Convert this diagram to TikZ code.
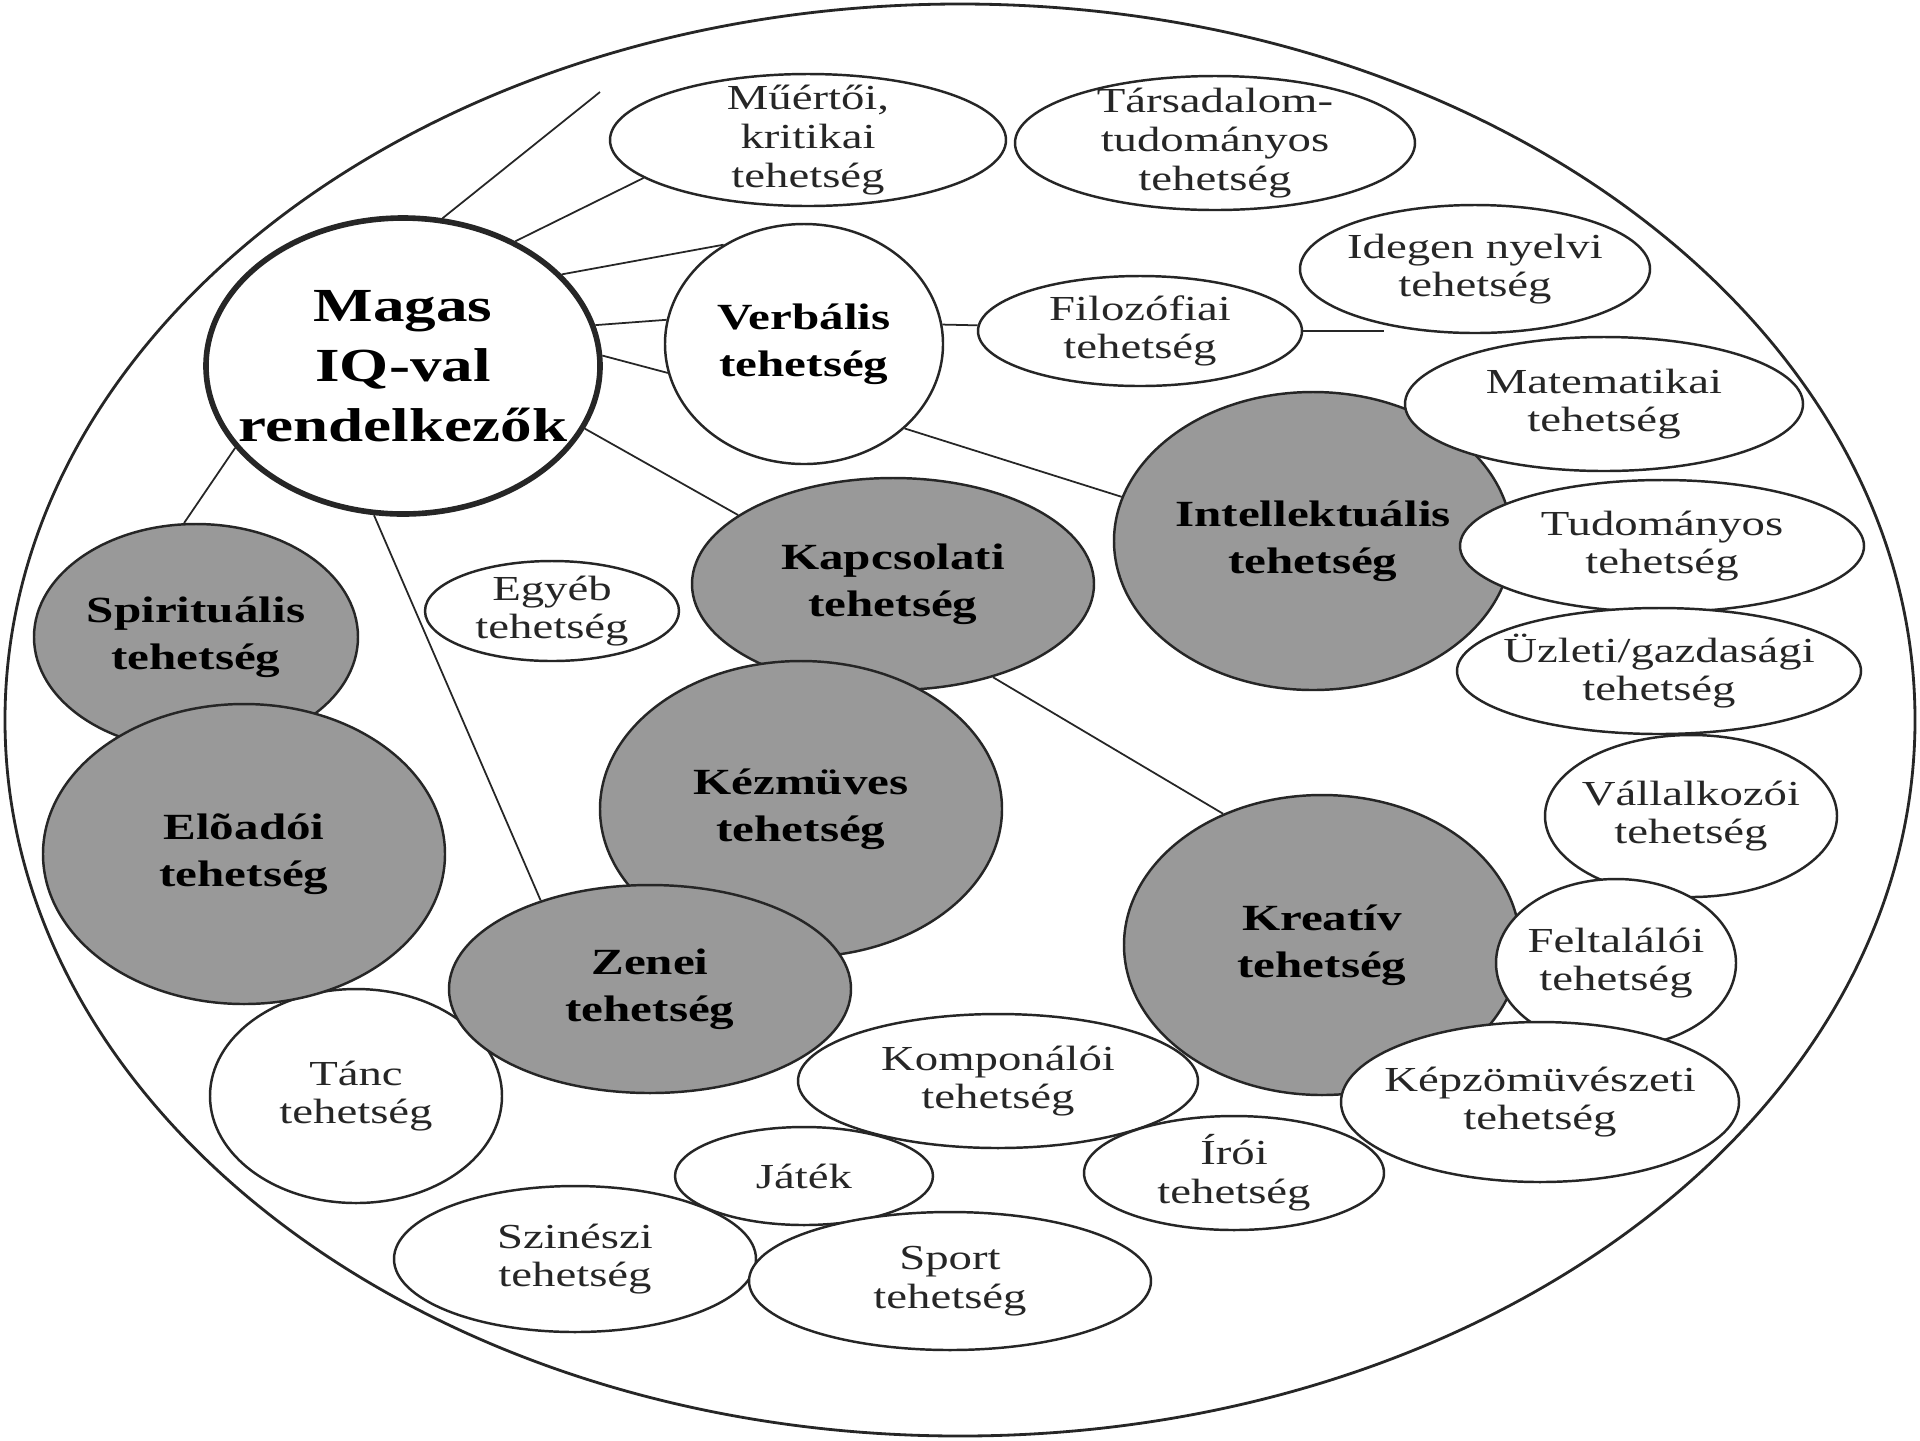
\documentclass[tikz,border=0pt]{standalone}
\usepackage{fontspec}
\setmainfont{Liberation Serif}[FakeStretch=1.33]
\usetikzlibrary{shapes.geometric}

\begin{document}
\begin{tikzpicture}[x=1mm, y=1mm,
  talent/.style={ellipse, draw=black!85, fill=white, line width=0.7pt},
  gift/.style={talent, fill=black!40},
  dims/.style 2 args={minimum width=#1mm, minimum height=#2mm},
  plain/.style={font=\fontsize{10}{11}\selectfont, align=center, text=black!85},
  strong/.style={font=\fontsize{10.5}{13.5}\selectfont\bfseries, align=center},
  link/.style={black!85, line width=0.5pt}]
\tikzstyle{every node}+=[inner sep=0pt]
\useasboundingbox (0,0) rectangle (192,-144);
\node [talent, dims={191}{143.2}, line width=0.8pt] (frame) at (96,-72) {};
\node [talent, dims={29.2}{21.4}, label={[plain]center:{Tánc\\tehetség}}] (tanc) at (35.6,-109.6) {};
\node [gift, dims={32.4}{22.6}, label={[strong]center:{Spirituális\\tehetség}}] (spirit) at (19.6,-63.7) {};
\node [gift, dims={40.2}{30.0}, label={[strong]center:{Elõadói\\tehetség}}] (eloadoi) at (24.4,-85.4) {};
\node [gift, dims={40.2}{21.2}, label={[strong]center:{Kapcsolati\\tehetség}}] (kapcs) at (89.3,-58.4) {};
\node [gift, dims={40.2}{29.6}, label={[strong]center:{Kézmüves\\tehetség}}] (kezmu) at (80.1,-80.9) {};
\node [gift, dims={40.2}{20.8}, label={[strong]center:{Zenei\\tehetség}}] (zenei) at (65.0,-98.9) {};
\node [gift, dims={39.8}{29.8}, label={[strong]center:{Intellektuális\\tehetség}}] (intell) at (131.3,-54.1) {};
\node [gift, dims={39.6}{30.0}, label={[strong]center:{Kreatív\\tehetség}}] (kreativ) at (132.2,-94.5) {};
\node [talent, dims={39.6}{13.2}, label={[plain]center:{Műértői,\\kritikai\\tehetség}}] (muerto) at (80.8,-14.0) {};
\node [talent, dims={40.0}{13.4}, label={[plain]center:{Társadalom-\\tudományos\\tehetség}}] (tarsad) at (121.5,-14.3) {};
\node [talent, dims={27.8}{24.0}, label={[strong]center:{Verbális\\tehetség}}] (verbal) at (80.4,-34.4) {};
\node [talent, dims={35.0}{12.8}, label={[plain]center:{Idegen nyelvi\\tehetség}}] (idegen) at (147.5,-26.9) {};
\node [talent, dims={32.4}{11.0}, label={[plain]center:{Filozófiai\\tehetség}}] (filozof) at (114.0,-33.1) {};
\node [talent, dims={39.8}{13.4}, label={[plain]center:{Matematikai\\tehetség}}] (matek) at (160.4,-40.4) {};
\node [talent, dims={40.4}{13.2}, label={[plain]center:{Tudományos\\tehetség}}] (tudom) at (166.2,-54.6) {};
\node [talent, dims={40.4}{12.6}, label={[plain]center:{Üzleti/gazdasági\\tehetség}}] (uzleti) at (165.9,-67.1) {};
\node [talent, dims={25.4}{10.0}, label={[plain]center:{Egyéb\\tehetség}}] (egyeb) at (55.2,-61.1) {};
\node [talent, dims={29.2}{16.2}, label={[plain]center:{Vállalkozói\\tehetség}}] (vallalk) at (169.1,-81.6) {};
\node [talent, dims={24.0}{16.8}, label={[plain]center:{Feltalálói\\tehetség}}] (feltal) at (161.6,-96.3) {};
\node [talent, dims={39.8}{16.0}, label={[plain]center:{Képzömüvészeti\\tehetség}}] (kepzo) at (154.0,-110.2) {};
\node [talent, dims={40.0}{13.4}, label={[plain]center:{Komponálói\\tehetség}}] (kompon) at (99.8,-108.1) {};
\node [talent, dims={25.8}{9.8}, label={[plain]center:{Játék}}] (jatek) at (80.4,-117.6) {};
\node [talent, dims={30.0}{11.4}, label={[plain]center:{Írói\\tehetség}}] (iroi) at (123.4,-117.3) {};
\node [talent, dims={36.2}{14.6}, label={[plain]center:{Szinészi\\tehetség}}] (szinesz) at (57.5,-125.9) {};
\node [talent, dims={40.2}{13.8}, label={[plain]center:{Sport\\tehetség}}] (sport) at (95.0,-128.1) {};
\node [talent, dims={39.4}{29.6}, line width=1.6pt, label={[strong, font=\fontsize{13.5}{17}\selectfont\bfseries]center:{Magas\\IQ-val\\rendelkezők}}] (magas) at (40.3,-36.6) {};
\coordinate (top) at (60.0,-9.2);
\coordinate (side) at (138.4,-33.1);
\draw [link] (magas.75) -- (top);
\draw [link] (magas.48) -- (muerto.193);
\draw [link] (magas.30) -- (verbal.129);
\draw [link] (magas.12) -- (verbal.170);
\draw [link] (magas.3) -- (verbal.192);
\draw [link] (magas.-19) -- (kapcs.156);
\draw [link] (magas.206) -- (spirit.96);
\draw [link] (magas.259) -- (zenei.141);
\draw [link] (verbal.8) -- (filozof.178);
\draw [link] (filozof.0) -- (side);
\draw [link] (verbal.-40) -- (intell.167);
\draw [link] (kapcs.-43) -- (kreativ.127);
\end{tikzpicture}
\end{document}
